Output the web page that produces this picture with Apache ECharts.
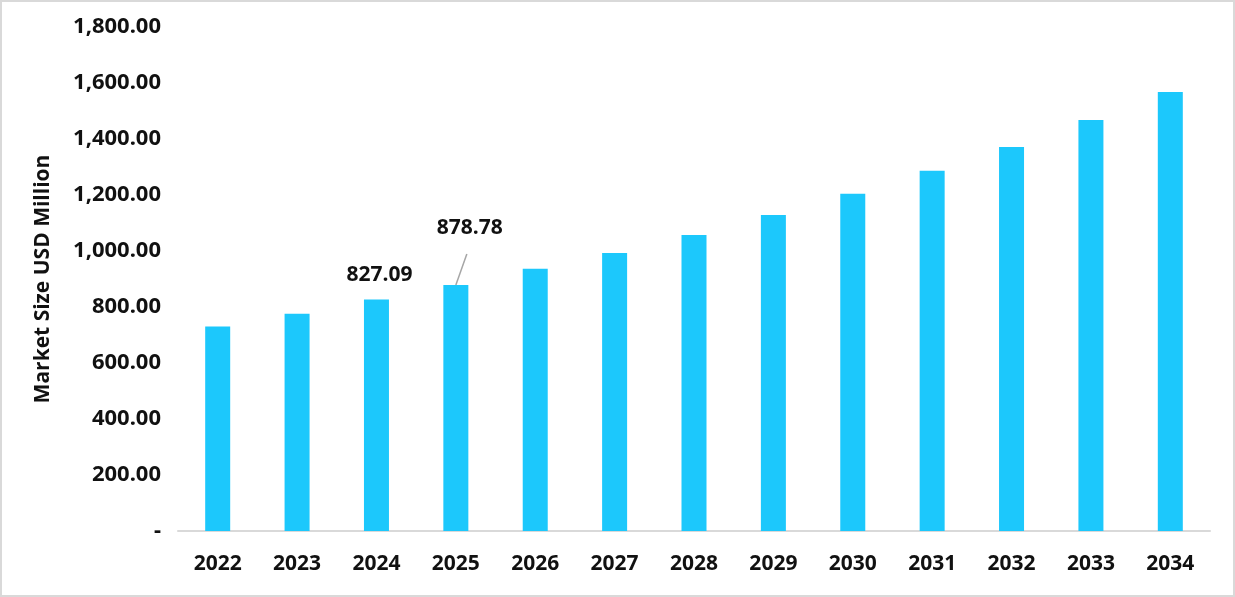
<!DOCTYPE html>
<html>
<head>
<meta charset="utf-8">
<title>Market Size USD Million</title>
<script src="https://cdn.jsdelivr.net/npm/echarts@6/dist/echarts.min.js"></script>
<style>
    html, body { margin: 0; padding: 0; background: #fff; }
    #chart { width: 1235px; height: 597px; box-sizing: border-box; border: 2px solid #d9d9d9; }
</style>
</head>
<body>
<div id="chart"></div>
<script>
/* 数据 */
var years = ['2022', '2023', '2024', '2025', '2026', '2027', '2028', '2029', '2030', '2031', '2032', '2033', '2034'];
var marketSize = [730.5, 775.6, 827.09, 878.78, 936.2, 992.5, 1057.5, 1128.4, 1204.1, 1286.2, 1371.3, 1468.2, 1568.0];
// 只显示这两年的数值标签
var labelledYears = ['2024', '2025'];
// 带引导线的那一年
var leaderYear = '2025';
var yTicks = [0, 200, 400, 600, 800, 1000, 1200, 1400, 1600, 1800];

/**
 * 千分位+两位小数, 0 显示为 "-"
 */
var axisFormat = function (v) {
    if (v === 0) {
        return '-';
    }
    var s = v.toFixed(2);
    var x = s.split('.');
    var x1 = x[0];
    var rgx = /(\d+)(\d{3})/;
    while (rgx.test(x1)) {
        x1 = x1.replace(rgx, '$1' + ',' + '$2');
    }
    return x1 + '.' + x[1];
};

var barData = [];
for (var i = 0; i < years.length; i++) {
    var item = { value: marketSize[i] };
    if (labelledYears.indexOf(years[i]) > -1) {
        item.label = { show: true };
    }
    barData.push(item);
}

var chart = echarts.init(document.getElementById('chart'));
chart.setOption({
    animation: false,
    grid: { left: 176, right: 23, top: 25, bottom: 64 },
    xAxis: {
        type: 'category',
        data: years,
        axisTick: { show: false },
        axisLine: { lineStyle: { color: '#d9d9d9', width: 2 } },
        axisLabel: {
            margin: 23,
            color: '#111',
            fontFamily: 'Open Sans',
            fontWeight: 'bold',
            fontSize: 21
        }
    },
    yAxis: {
        type: 'value',
        min: yTicks[0],
        max: yTicks[yTicks.length - 1],
        interval: 200,
        name: 'Market Size USD Million',
        nameLocation: 'middle',
        nameGap: 124,
        nameTextStyle: {
            color: '#111',
            fontFamily: 'Open Sans',
            fontWeight: 'bold',
            fontSize: 21
        },
        splitLine: { show: false },
        axisLine: { show: false },
        axisTick: { show: false },
        axisLabel: {
            margin: 17,
            color: '#111',
            fontFamily: 'Noto Sans',
            fontWeight: 'bold',
            fontSize: 22,
            formatter: axisFormat
        }
    },
    series: [{
        type: 'bar',
        data: barData,
        barWidth: 25,
        itemStyle: { color: '#1cc8fc' },
        label: {
            show: false,
            position: 'top',
            distance: 14,
            color: '#111',
            fontFamily: 'Open Sans',
            fontWeight: 'bold',
            fontSize: 21,
            formatter: function (p) { return p.value.toFixed(2); }
        },
        // 2025 的标签往右上偏移
        labelLayout: function (params) {
            if (years[params.dataIndex] === leaderYear) {
                return { dx: 14, dy: -32 };
            }
            return { dx: 3 };
        }
    }]
});

// 引导线: 从柱顶中点斜向右上
var top25 = chart.convertToPixel({ seriesIndex: 0 }, [leaderYear, marketSize[years.indexOf(leaderYear)]]);
chart.setOption({
    graphic: [{
        type: 'line',
        shape: { x1: top25[0], y1: top25[1], x2: top25[0] + 11, y2: top25[1] - 31 },
        style: { stroke: '#a6a6a6', lineWidth: 1.5 },
        z: 10
    }]
});
</script>
</body>
</html>
